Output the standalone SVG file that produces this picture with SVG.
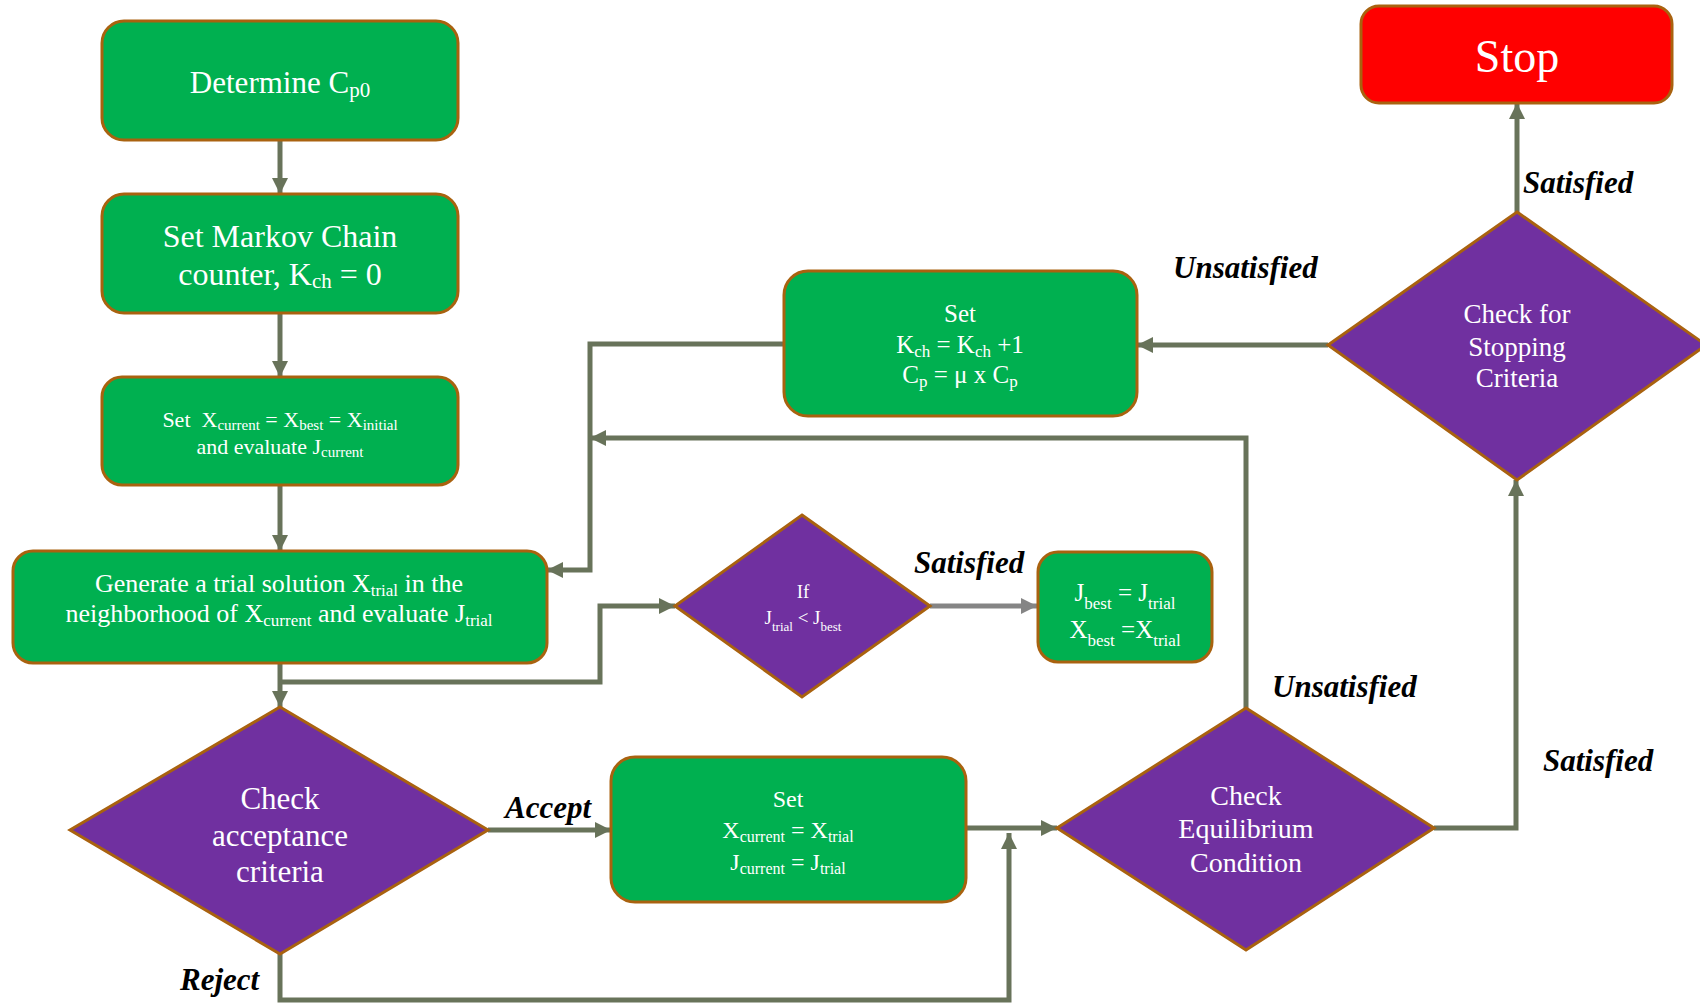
<svg xmlns="http://www.w3.org/2000/svg" width="1700" height="1004" viewBox="0 0 1700 1004">
  <style>
    .box { fill: #00B050; stroke: #A9620F; stroke-width: 3; }
    .stop { fill: #FF0000; stroke: #A9620F; stroke-width: 3; }
    .dia { fill: #7030A0; stroke: #A9620F; stroke-width: 3; }
    .t { font-family: "Liberation Serif", "Times New Roman", serif; fill: #FFFFFF; text-anchor: middle; }
    .lbl { font-family: "Liberation Serif", "Times New Roman", serif; font-weight: bold; font-style: italic; font-size: 31px; fill: #000000; }
    .conn { fill: none; stroke: #68735A; stroke-width: 5; }
    .conn-gray { fill: none; stroke: #858585; stroke-width: 5; }
  </style>
  <defs>
    <marker id="arr" markerUnits="userSpaceOnUse" markerWidth="18" markerHeight="18" refX="16" refY="8" orient="auto">
      <path d="M0,0 L16,8 L0,16 z" fill="#68735A"/>
    </marker>
    <marker id="arr-gray" markerUnits="userSpaceOnUse" markerWidth="18" markerHeight="18" refX="16" refY="8" orient="auto">
      <path d="M0,0 L16,8 L0,16 z" fill="#858585"/>
    </marker>
  </defs>
  <rect width="1700" height="1004" fill="#FFFFFF"/>

  <!-- connectors -->
  <g id="connectors">
    <path class="conn" d="M280,140 V194" marker-end="url(#arr)"/>
    <path class="conn" d="M280,313 V377" marker-end="url(#arr)"/>
    <path class="conn" d="M280,485 V551" marker-end="url(#arr)"/>
    <path class="conn" d="M280,663 V707" marker-end="url(#arr)"/>
    <path class="conn" d="M280,682 H600 V606 H675" marker-end="url(#arr)"/>
    <path class="conn-gray" d="M930,606 H1037" marker-end="url(#arr-gray)"/>
    <path class="conn" d="M488,830 H611" marker-end="url(#arr)"/>
    <path class="conn" d="M280,954 V1000 H1009 V833" marker-end="url(#arr)"/>
    <path class="conn" d="M966,828 H1057" marker-end="url(#arr)"/>
    <path class="conn" d="M1246,708 V438 H590" marker-end="url(#arr)"/>
    <path class="conn" d="M1434,828 H1516 V480" marker-end="url(#arr)"/>
    <path class="conn" d="M1328,345 H1137" marker-end="url(#arr)"/>
    <path class="conn" d="M784,344 H590 V570 H547" marker-end="url(#arr)"/>
    <path class="conn" d="M1517,212 V103" marker-end="url(#arr)"/>
  </g>

  <!-- process boxes -->
  <g id="determine-cp0">
    <rect class="box" x="102" y="21" width="356" height="119" rx="22"/>
    <text class="t" x="280" y="93" font-size="31">Determine C<tspan font-size="21" baseline-shift="-4">p0</tspan></text>
  </g>

  <g id="set-markov">
    <rect class="box" x="102" y="194" width="356" height="119" rx="22"/>
    <text class="t" x="280" y="247" font-size="32">Set Markov Chain</text>
    <text class="t" x="280" y="285" font-size="32">counter, K<tspan font-size="21" baseline-shift="-3">ch</tspan> = 0</text>
  </g>

  <g id="set-initial">
    <rect class="box" x="102" y="377" width="356" height="108" rx="20"/>
    <text class="t" x="280" y="427" font-size="22" xml:space="preserve">Set  X<tspan font-size="15" baseline-shift="-3">current</tspan> = X<tspan font-size="15" baseline-shift="-3">best</tspan> = X<tspan font-size="15" baseline-shift="-3">initial</tspan></text>
    <text class="t" x="280" y="454" font-size="22">and evaluate J<tspan font-size="15" baseline-shift="-3">current</tspan></text>
  </g>

  <g id="generate-trial">
    <rect class="box" x="13" y="551" width="534" height="112" rx="20"/>
    <text class="t" x="279" y="592" font-size="26">Generate a trial solution X<tspan font-size="17" baseline-shift="-4">trial</tspan> in the</text>
    <text class="t" x="279" y="622" font-size="26">neighborhood of X<tspan font-size="17" baseline-shift="-4">current</tspan> and evaluate J<tspan font-size="17" baseline-shift="-4">trial</tspan></text>
  </g>

  <g id="update-kch">
    <rect class="box" x="784" y="271" width="353" height="145" rx="24"/>
    <text class="t" x="960" y="322" font-size="25">Set</text>
    <text class="t" x="960" y="353" font-size="25">K<tspan font-size="17" baseline-shift="-4">ch</tspan> = K<tspan font-size="17" baseline-shift="-4">ch</tspan> +1</text>
    <text class="t" x="960" y="383" font-size="25">C<tspan font-size="17" baseline-shift="-4">p</tspan> = μ x C<tspan font-size="17" baseline-shift="-4">p</tspan></text>
  </g>

  <g id="update-best">
    <rect class="box" x="1038" y="552" width="174" height="110" rx="20"/>
    <text class="t" x="1125" y="601" font-size="25">J<tspan font-size="17" baseline-shift="-8">best</tspan> = J<tspan font-size="17" baseline-shift="-8">trial</tspan></text>
    <text class="t" x="1125" y="638" font-size="25">X<tspan font-size="17" baseline-shift="-8">best</tspan> =X<tspan font-size="17" baseline-shift="-8">trial</tspan></text>
  </g>

  <g id="accept-trial">
    <rect class="box" x="611" y="757" width="355" height="145" rx="24"/>
    <text class="t" x="788" y="807" font-size="24">Set</text>
    <text class="t" x="788" y="838" font-size="24">X<tspan font-size="16" baseline-shift="-4">current</tspan> = X<tspan font-size="16" baseline-shift="-4">trial</tspan></text>
    <text class="t" x="788" y="870" font-size="24">J<tspan font-size="16" baseline-shift="-4">current</tspan> = J<tspan font-size="16" baseline-shift="-4">trial</tspan></text>
  </g>

  <g id="stop">
    <rect class="stop" x="1361" y="6" width="311" height="97" rx="18"/>
    <text class="t" x="1517" y="72" font-size="46">Stop</text>
  </g>

  <!-- decision diamonds -->
  <g id="if-better">
    <polygon class="dia" points="802,515 930,606 802,697 675,606"/>
    <text class="t" x="803" y="598" font-size="19">If</text>
    <text class="t" x="803" y="624" font-size="19">J<tspan font-size="13" baseline-shift="-7">trial</tspan> &lt; J<tspan font-size="13" baseline-shift="-7">best</tspan></text>
  </g>

  <g id="check-acceptance">
    <polygon class="dia" points="280,707 488,830 280,954 70,830"/>
    <text class="t" x="280" y="809" font-size="31">Check</text>
    <text class="t" x="280" y="846" font-size="31">acceptance</text>
    <text class="t" x="280" y="882" font-size="31">criteria</text>
  </g>

  <g id="check-equilibrium">
    <polygon class="dia" points="1246,708 1434,828 1246,950 1057,828"/>
    <text class="t" x="1246" y="805" font-size="28">Check</text>
    <text class="t" x="1246" y="838" font-size="28">Equilibrium</text>
    <text class="t" x="1246" y="872" font-size="28">Condition</text>
  </g>

  <g id="check-stopping">
    <polygon class="dia" points="1517,212 1706,345 1517,480 1328,345"/>
    <text class="t" x="1517" y="323" font-size="27">Check for</text>
    <text class="t" x="1517" y="356" font-size="27">Stopping</text>
    <text class="t" x="1517" y="387" font-size="27">Criteria</text>
  </g>

  <!-- connector labels -->
  <g id="labels">
    <text class="lbl" x="914" y="573">Satisfied</text>
    <text class="lbl" x="1173" y="278">Unsatisfied</text>
    <text class="lbl" x="1523" y="193">Satisfied</text>
    <text class="lbl" x="1272" y="697">Unsatisfied</text>
    <text class="lbl" x="1543" y="771">Satisfied</text>
    <text class="lbl" x="505" y="818">Accept</text>
    <text class="lbl" x="180" y="990">Reject</text>
  </g>
</svg>
